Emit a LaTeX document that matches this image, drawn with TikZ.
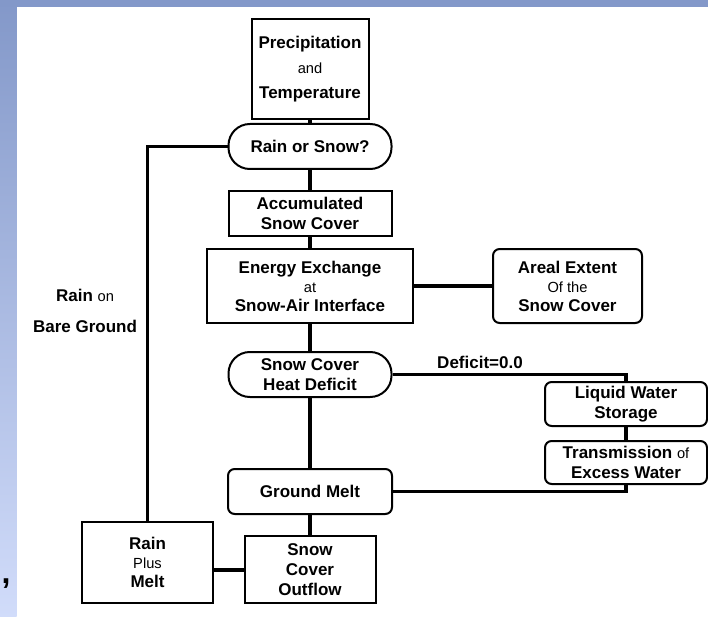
\documentclass[tikz,border=0pt]{standalone}
\usepackage{fontspec}
\setmainfont{Liberation Sans}
\definecolor{stripTop}{HTML}{8398C9}
\definecolor{stripBot}{HTML}{D1DCFA}
\newcommand{\lite}[1]{{\mdseries\fontsize{11}{13}\selectfont #1}}

\begin{document}
\begin{tikzpicture}[x=0.75pt, y=-0.75pt,
  box/.style={shape=rectangle, draw=black, line width=1.5pt, align=center, inner sep=0pt,
    font=\fontsize{12.75}{15}\selectfont\bfseries},
  pill/.style={box, rounded corners=16pt},
  rbox/.style={box, rounded corners=5pt},
  lab/.style={align=center, inner sep=0pt, font=\fontsize{12.75}{15}\selectfont\bfseries},
  link/.style={line width=2.6pt}]

\useasboundingbox (0,0) rectangle (708,617);
\fill [white] (0,0) rectangle (708,617);
\shade [top color=stripTop, bottom color=stripBot] (0,0) rectangle (16.5,617);
\fill [stripTop] (0,0) rectangle (708,7);

\node [box, minimum width=87.75pt, minimum height=75pt, font=\fontsize{12.75}{18.75}\selectfont\bfseries] (prec) at (310,69) {Precipitation\\\lite{and}\\Temperature};
\node [pill, minimum width=122.25pt, minimum height=33.75pt] (rs) at (310,146.5) {Rain or Snow?};
\node [box, minimum width=122.25pt, minimum height=33.75pt] (acc) at (310,213.5) {Accumulated\\Snow Cover};
\node [box, minimum width=154.5pt, minimum height=55.5pt, font=\fontsize{12.75}{14.25}\selectfont\bfseries] (en) at (310,286) {Energy Exchange\\\lite{at}\\Snow-Air Interface};
\node [rbox, minimum width=111.75pt, minimum height=55.5pt, font=\fontsize{12.75}{14.25}\selectfont\bfseries] (ar) at (567.5,286) {Areal Extent\\\lite{Of the}\\Snow Cover};
\node [pill, minimum width=122.25pt, minimum height=33.75pt] (hd) at (310,374.5) {Snow Cover\\Heat Deficit};
\node [rbox, minimum width=121.5pt, minimum height=33pt] (lw) at (626,404) {Liquid Water\\Storage};
\node [rbox, minimum width=121.5pt, minimum height=32.25pt] (tr) at (626,462.5) {Transmission \lite{of}\\Excess Water};
\node [rbox, minimum width=123pt, minimum height=33.75pt] (gm) at (310,491.5) {Ground Melt};
\node [box, minimum width=98.25pt, minimum height=60.75pt, font=\fontsize{12.75}{14.25}\selectfont\bfseries] (rm) at (147.5,562.5) {Rain\\\lite{Plus}\\Melt};
\node [box, minimum width=98.25pt, minimum height=50.25pt] (out) at (310,569.5) {Snow\\Cover\\Outflow};

\node [lab] (d0) at (480,362) {Deficit=0.0};
\node [lab, font=\fontsize{12.75}{23.25}\selectfont\bfseries] (bare) at (85,311) {Rain \lite{on}\\Bare Ground};
\node [lab, font=\fontsize{24}{24}\selectfont\bfseries] (cm) at (6,584) {,};

\draw [link] (prec) -- (rs);
\draw [link] (rs) -- (acc);
\draw [link] (acc) -- (en);
\draw [link] (en) -- (ar);
\draw [link] (en) -- (hd);
\draw [link] (hd) -- (gm);
\draw [link] (gm) -- (out);
\draw [link, line width=3pt] (out.west) -- (out.west -| rm.east);
\draw [link] (lw) -- (tr);
\draw [link] (rs.west) -| (rm.north);
\draw [link] (hd.east) -| (lw.north);
\draw [link] (gm.east) -| (tr.south);
\end{tikzpicture}
\end{document}
